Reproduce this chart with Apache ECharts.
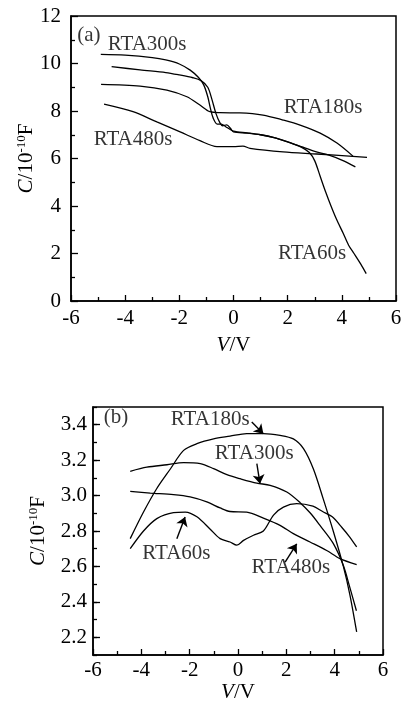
<!DOCTYPE html>
<html>
<head>
<meta charset="utf-8">
<script src="https://cdn.jsdelivr.net/npm/echarts@6/dist/echarts.min.js"></script>
<style>
  html, body { margin: 0; padding: 0; background: #fff; }
  #chart { width: 408px; height: 704px; }
</style>
</head>
<body>
<div id="chart"></div>
<script>
// ── Panel (a): C-V curves ─────────────────────────────────────────────────
var a300X = [-4.9, -4, -3, -2.5, -2, -1.6, -1.3, -1.1, -0.95, -0.85, -0.75, -0.6, -0.45, -0.3, 0, 0.5, 1, 1.5, 2, 2.5, 3, 3.5, 4, 4.5];
var a300Y = [10.38, 10.35, 10.25, 10.15, 9.98, 9.72, 9.42, 9.1, 8.6, 8.1, 7.7, 7.45, 7.45, 7.35, 7.15, 7.08, 7.0, 6.88, 6.7, 6.5, 6.3, 6.15, 5.93, 5.65];
var a60X = [-4.5, -3.45, -2.5, -2, -1.5, -1.2, -0.95, -0.8, -0.65, -0.5, -0.4, -0.25, -0.1, 0, 0.5, 1, 1.5, 2, 2.5, 2.8, 3.0, 3.2, 3.4, 3.6, 3.8, 4.05, 4.25, 4.45, 4.7, 4.9];
var a60Y = [9.87, 9.73, 9.62, 9.52, 9.4, 9.28, 9.0, 8.5, 7.9, 7.5, 7.38, 7.42, 7.25, 7.12, 7.07, 7.0, 6.88, 6.7, 6.48, 6.25, 5.9, 5.25, 4.6, 4.0, 3.45, 2.85, 2.35, 2.0, 1.55, 1.15];
var a180X = [-4.89, -3.45, -2.46, -1.72, -1.24, -0.87, -0.5, 0.24, 1.09, 1.83, 2.46, 3.2, 3.82, 4.41];
var a180Y = [9.12, 9.05, 8.88, 8.6, 8.25, 7.97, 7.93, 7.92, 7.83, 7.62, 7.41, 7.07, 6.65, 6.1];
var a480X = [-4.78, -3.71, -2.83, -1.97, -1.24, -0.61, 0, 0.35, 0.61, 1.83, 3.08, 4.93];
var a480Y = [8.29, 7.97, 7.54, 7.12, 6.75, 6.5, 6.5, 6.52, 6.43, 6.28, 6.19, 6.05];

var aLabels = [[-5.34, 11.2, '(a)'], [-3.19, 10.78, 'RTA300s'], [3.31, 8.13, 'RTA180s'],
               [-3.71, 6.82, 'RTA480s'], [2.9, 1.98, 'RTA60s']];

// ── Panel (b) ─────────────────────────────────────────────────────────────
var b180X = [-4.46, -3.91, -3.36, -2.8, -2.25, -1.7, -1.01, -0.33, 0.36, 1.05, 1.74, 2.29, 2.71, 3.12, 3.53, 3.94, 4.36, 4.63, 4.91];
var b180Y = [2.757, 2.907, 3.04, 3.15, 3.255, 3.293, 3.32, 3.335, 3.35, 3.35, 3.34, 3.32, 3.265, 3.15, 2.98, 2.8, 2.6, 2.44, 2.23];
var b300X = [-4.46, -3.77, -2.94, -2.25, -1.56, -1.01, -0.46, 0.09, 0.78, 1.33, 2.02, 2.57, 3.0, 3.4, 3.94, 4.36, 4.63, 4.9];
var b300Y = [3.137, 3.16, 3.174, 3.186, 3.18, 3.152, 3.118, 3.095, 3.07, 3.058, 3.02, 2.96, 2.9, 2.83, 2.73, 2.605, 2.48, 2.35];
var b60X = [-4.46, -3.91, -3.36, -2.67, -2.18, -1.7, -1.15, -0.74, -0.33, -0.05, 0.23, 0.64, 1.05, 1.47, 1.88, 2.43, 3.1, 3.5, 3.9, 4.3, 4.6, 4.91];
var b60Y = [2.7, 2.8, 2.87, 2.904, 2.907, 2.88, 2.81, 2.757, 2.738, 2.72, 2.747, 2.776, 2.8, 2.89, 2.935, 2.954, 2.94, 2.91, 2.88, 2.82, 2.77, 2.71];
var b480X = [-4.46, -3.63, -2.67, -1.98, -1.29, -0.74, -0.33, 0.36, 1.05, 1.74, 2.29, 2.98, 3.67, 4.22, 4.91];
var b480Y = [3.024, 3.014, 3.005, 2.992, 2.964, 2.93, 2.91, 2.907, 2.873, 2.832, 2.785, 2.738, 2.69, 2.644, 2.61];

var bLabels = [[-5.05, 3.44, '(b)'], [-1.15, 3.431, 'RTA180s'], [0.67, 3.236, 'RTA300s'],
               [-2.55, 2.671, 'RTA60s'], [2.19, 2.595, 'RTA480s']];
// arrows: [x1, y1, x2, y2]
var bArrows = [[0.57, 3.415, 1.05, 3.349], [0.78, 3.18, 0.91, 3.067],
               [-2.53, 2.756, -2.19, 2.879], [1.95, 2.624, 2.43, 2.728]];

var bYLabels = [2.2, 2.4, 2.6, 2.8, 3.0, 3.2, 3.4];

var FONT = '"Liberation Serif", "DejaVu Serif", serif';
var BLACK = '#000';
var FS = 21;

function zip(xs, ys) {
  return xs.map(function (x, i) { return [x, ys[i]]; });
}

function curve(xs, ys, idx) {
  return {
    type: 'line', xAxisIndex: idx, yAxisIndex: idx, data: zip(xs, ys),
    smooth: 0.3, symbol: 'none', silent: true,
    lineStyle: { color: BLACK, width: 1.3 }
  };
}

function labelSeries(list, idx, arrows) {
  var s = {
    type: 'scatter', xAxisIndex: idx, yAxisIndex: idx, symbolSize: 0, silent: true,
    data: list.map(function (l) { return { value: [l[0], l[1]], name: l[2] }; }),
    label: {
      show: true, position: 'inside', formatter: '{b}',
      color: BLACK, fontFamily: FONT, fontSize: FS
    }
  };
  if (arrows) {
    s.markLine = {
      silent: true, symbol: ['none', 'arrow'], symbolSize: 9,
      label: { show: false },
      lineStyle: { color: BLACK, width: 1.4, type: 'solid' },
      data: arrows.map(function (a) { return [{ coord: [a[0], a[1]] }, { coord: [a[2], a[3]] }]; })
    };
  }
  return s;
}

var tickStyle = { color: BLACK, width: 1.3 };
var axisLineStyle = { color: BLACK, width: 1.5 };
var nameStyle = {
  color: BLACK, fontFamily: FONT, fontSize: FS,
  rich: {
    i: { fontFamily: FONT, fontSize: FS, fontStyle: 'italic', color: BLACK },
    s: { fontFamily: FONT, fontSize: 13, color: BLACK, padding: [0, 0, 9, 0] },
    n: { fontFamily: FONT, fontSize: FS, color: BLACK }
  }
};

function xAxis(idx, nameGap, margin) {
  return {
    type: 'value', gridIndex: idx, min: -6, max: 6, interval: 2,
    name: '{i|V}{n|/V}', nameLocation: 'middle', nameGap: nameGap, nameTextStyle: nameStyle,
    nameMoveOverlap: false,
    axisLine: { show: true, onZero: false, lineStyle: axisLineStyle },
    axisTick: { show: true, inside: true, length: 6, lineStyle: tickStyle },
    minorTick: { show: true, splitNumber: 2, length: 4, lineStyle: tickStyle },
    splitLine: { show: false },
    axisLabel: { color: BLACK, fontFamily: FONT, fontSize: FS, margin: margin }
  };
}

var option = {
  animation: false,
  backgroundColor: '#fff',
  grid: [
    { left: 71, top: 16, width: 325, height: 285, show: true, borderColor: BLACK, borderWidth: 1.5 },
    { left: 93, top: 407, width: 290, height: 249, show: true, borderColor: BLACK, borderWidth: 1.5 }
  ],
  xAxis: [xAxis(0, 34, 7), xAxis(1, 27, 5)],
  yAxis: [
    {
      type: 'value', gridIndex: 0, min: 0, max: 12, interval: 2,
      name: '{i|C}{n|/10}{s|-10}{n|F}', nameLocation: 'middle', nameGap: 34, nameRotate: 90,
      nameTextStyle: nameStyle, nameMoveOverlap: false,
      axisLine: { show: true, onZero: false, lineStyle: axisLineStyle },
      axisTick: { show: true, inside: true, length: 7, lineStyle: tickStyle },
      minorTick: { show: true, splitNumber: 2, length: 4, lineStyle: tickStyle },
      splitLine: { show: false },
      axisLabel: { color: BLACK, fontFamily: FONT, fontSize: FS, margin: 10 }
    },
    {
      type: 'value', gridIndex: 1, min: 2.1, max: 3.5, interval: 0.1,
      name: '{i|C}{n|/10}{s|-10}{n|F}', nameLocation: 'middle', nameGap: 44, nameRotate: 90,
      nameTextStyle: nameStyle, nameMoveOverlap: false,
      axisLine: { show: true, onZero: false, lineStyle: axisLineStyle },
      axisTick: { show: true, inside: true, length: 4, lineStyle: tickStyle },
      splitLine: { show: false },
      axisLabel: {
        color: BLACK, fontFamily: FONT, fontSize: FS, margin: 6,
        formatter: function (v) { return Math.round(v * 10) % 2 === 0 ? v.toFixed(1) : ''; }
      }
    },
    {
      // major ticks for panel (b)
      type: 'value', gridIndex: 1, min: 2.1, max: 3.5, position: 'left',
      axisLine: { show: false, onZero: false },
      axisTick: { show: true, inside: true, length: 7, lineStyle: tickStyle, customValues: bYLabels },
      axisLabel: { show: false },
      splitLine: { show: false }
    }
  ],
  series: [
    curve(a300X, a300Y, 0),
    curve(a60X, a60Y, 0),
    curve(a180X, a180Y, 0),
    curve(a480X, a480Y, 0),
    labelSeries(aLabels, 0),
    curve(b180X, b180Y, 1),
    curve(b300X, b300Y, 1),
    curve(b60X, b60Y, 1),
    curve(b480X, b480Y, 1),
    labelSeries(bLabels, 1, bArrows)
  ]
};

var chart = echarts.init(document.getElementById('chart'), null, { renderer: 'canvas' });
chart.setOption(option);
</script>
</body>
</html>
